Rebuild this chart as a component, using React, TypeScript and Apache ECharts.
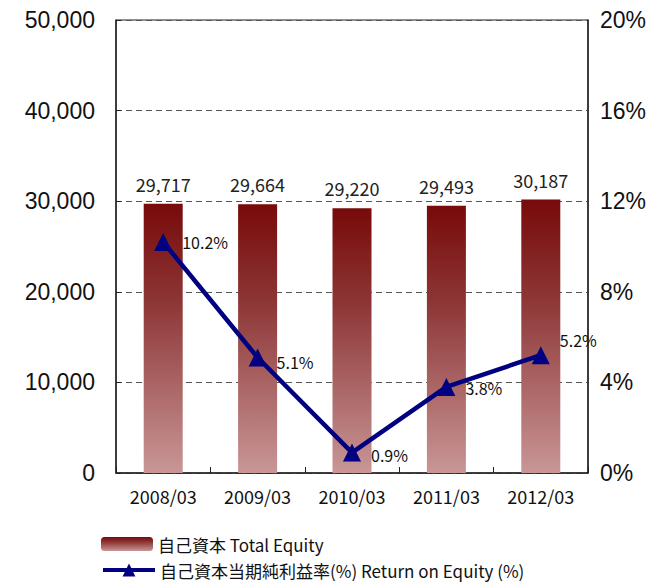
import React, { useEffect, useRef } from "react";
import * as echarts from "echarts";

const categories = ["2008/03", "2009/03", "2010/03", "2011/03", "2012/03"];
const equity = [29717, 29664, 29220, 29493, 30187];
const roe = [10.2, 5.1, 0.9, 3.8, 5.2];
const leftTicks = { min: 0, max: 50000, interval: 10000 };
const rightTicks = { min: 0, max: 20, interval: 4 };
const equityName = "自己資本 Total Equity";
const roeName = "自己資本当期純利益率(%) Return on Equity (%)";

const FONT = "'Noto Sans CJK JP', 'Liberation Sans', sans-serif";

export default function App() {
  const ref = useRef<HTMLDivElement>(null);
  useEffect(() => {
    if (!ref.current) return;
    const chart = echarts.init(ref.current, undefined, { renderer: "svg" });
    const barGrad = new echarts.graphic.LinearGradient(0, 0, 0, 1, [
      { offset: 0, color: "#780a0a" },
      { offset: 0.35, color: "#8c3434" },
      { offset: 1, color: "#c99696" },
    ]);
    const labelOffsets: [number, number][] = [
      [0, 0],
      [0, 5],
      [0, 2],
      [0, 1],
      [0, -15],
    ];
    const legendText = { fontSize: 17, lineHeight: 18, color: "#111", fontFamily: FONT };
    chart.setOption({
      animation: false,
      textStyle: { fontFamily: FONT },
      grid: {
        left: 116,
        right: 68,
        top: 20,
        bottom: 109,
        show: true,
        borderColor: "#222",
        borderWidth: 1,
      },
      legend: [
        {
          left: 96,
          top: 530,
          padding: 5,
          itemWidth: 52,
          itemHeight: 14,
          itemGap: 6,
          textStyle: legendText,
          data: [equityName],
        },
        {
          left: 96,
          top: 556,
          padding: 5,
          itemWidth: 52,
          itemHeight: 16,
          itemGap: 6,
          textStyle: legendText,
          lineStyle: { width: 4 },
          data: [roeName],
        },
      ],
      xAxis: {
        type: "category",
        data: categories,
        axisLine: { lineStyle: { color: "#222", width: 1.5 } },
        axisTick: { show: true, inside: true, length: 6, lineStyle: { color: "#222" } },
        axisLabel: { fontSize: 18, color: "#111", margin: 14, fontFamily: FONT },
      },
      yAxis: [
        {
          type: "value",
          min: leftTicks.min,
          max: leftTicks.max,
          interval: leftTicks.interval,
          axisLine: { show: true, lineStyle: { color: "#222", width: 1.5 } },
          axisTick: { show: true, inside: true, length: 5, lineStyle: { color: "#222" } },
          axisLabel: {
            fontSize: 23,
            color: "#111",
            margin: 21,
            fontFamily: "'Liberation Sans', sans-serif",
            formatter: (v: number) => v.toLocaleString("en-US"),
          },
          splitLine: { show: true, lineStyle: { color: "#555", type: [6, 4], width: 1 } },
        },
        {
          type: "value",
          min: rightTicks.min,
          max: rightTicks.max,
          interval: rightTicks.interval,
          axisLine: { show: true, lineStyle: { color: "#222", width: 1.5 } },
          axisTick: { show: false },
          axisLabel: {
            fontSize: 23,
            color: "#111",
            margin: 12,
            fontFamily: "'Liberation Sans', sans-serif",
            formatter: (v: number) => v + "%",
          },
          splitLine: { show: false },
        },
      ],
      series: [
        {
          name: equityName,
          type: "bar",
          data: equity,
          barWidth: 39,
          itemStyle: { color: barGrad },
          label: {
            show: true,
            position: "top",
            distance: 11,
            fontSize: 18,
            color: "#222",
            fontFamily: FONT,
            formatter: (p: any) => Number(p.value).toLocaleString("en-US"),
          },
        },
        {
          name: roeName,
          type: "line",
          yAxisIndex: 1,
          data: roe.map((v, i) => ({
            value: v,
            label: { offset: labelOffsets[i] },
          })),
          symbol: "triangle",
          symbolSize: 18,
          lineStyle: { color: "#000080", width: 4.5 },
          itemStyle: { color: "#000080" },
          label: {
            show: true,
            position: "right",
            distance: 10,
            fontSize: 16,
            color: "#111",
            fontFamily: FONT,
            formatter: (p: any) => p.value.toFixed(1) + "%",
          },
        },
      ],
    });
    return () => chart.dispose();
  }, []);
  return (
    <div
      ref={ref}
      style={{ position: "fixed", left: 0, top: 0, width: 656, height: 582, background: "#fff" }}
    />
  );
}
